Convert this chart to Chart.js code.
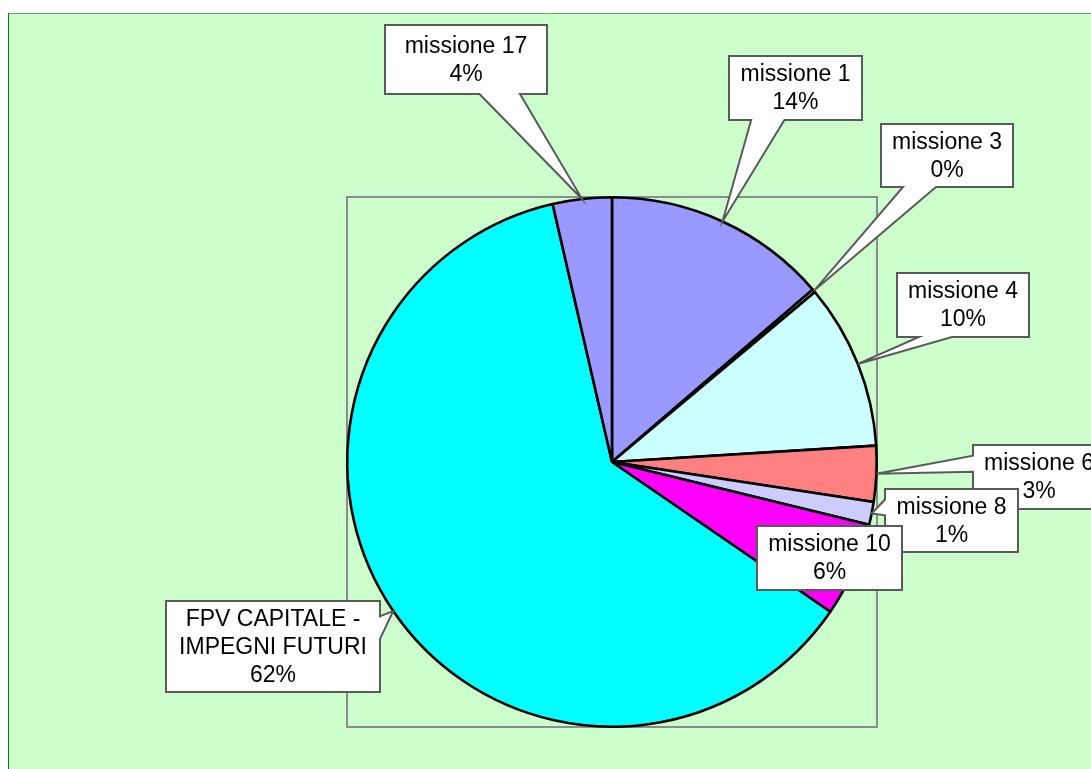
<!DOCTYPE html>
<html>
<head>
<meta charset="utf-8">
<script src="https://cdn.jsdelivr.net/npm/chart.js@4.4.1/dist/chart.umd.min.js"></script>
<style>
  html, body { margin: 0; padding: 0; background: #ffffff; }
  #wrap { position: absolute; left: 0; top: 0; width: 1091px; height: 769px; }
</style>
</head>
<body>
<div id="wrap"><canvas id="c" width="1091" height="769"></canvas></div>
<script>
// ---- data ----
const categories = [
  "missione 1", "missione 3", "missione 4", "missione 6", "missione 8",
  "missione 10", "FPV CAPITALE - IMPEGNI FUTURI", "missione 17"
];
const shares = [13.7, 0.2, 10.1, 3.4, 1.4, 5.75, 61.8, 3.6];
const sliceColors = ["#9999FF", "#FFFFCC", "#CCFFFF", "#FF8080", "#CCCCFF", "#FF00FF", "#00FFFF", "#9999FF"];

// ---- label box layout (page pixels: left, top, width, height) ----
const labelBoxes = [
  [729, 56, 133, 64],
  [881, 124, 132, 63],
  [897, 273, 132, 64],
  [973, 445, 132, 64],
  [885, 489, 133, 63],
  [757, 526, 145, 64],
  [166, 601, 214, 91],
  [385, 25, 162, 69]
];

const FONT = '23px "Liberation Sans", Arial, sans-serif';
const LINE_H = 28;

const bgPlugin = {
  id: 'bg',
  beforeDraw(chart) {
    const ctx = chart.ctx;
    ctx.save();
    ctx.fillStyle = '#ffffff';
    ctx.fillRect(0, 0, chart.width, chart.height);
    ctx.fillStyle = '#CCFFCC';
    ctx.fillRect(8, 13, chart.width - 8, chart.height - 13);
    ctx.lineWidth = 1;
    ctx.strokeStyle = '#6f9f6f';
    ctx.beginPath(); ctx.moveTo(8, 13.5); ctx.lineTo(chart.width, 13.5); ctx.stroke();
    ctx.strokeStyle = '#008000';
    ctx.beginPath(); ctx.moveTo(8.5, 13); ctx.lineTo(8.5, chart.height); ctx.stroke();
    // plot area frame
    const a = chart.chartArea;
    ctx.strokeStyle = '#8c8c8c';
    ctx.lineWidth = 2;
    ctx.strokeRect(a.left + 1, a.top + 1, a.right - a.left - 2, a.bottom - a.top - 2);
    ctx.restore();
  }
};

function calloutPath(ctx, bx, by, w, h, px, py) {
  const cx = bx + w / 2, cy = by + h / 2;
  const dx = px - cx, dy = py - cy;
  ctx.beginPath();
  const inside = px >= bx && px <= bx + w && py >= by && py <= by + h;
  if (inside) { ctx.rect(bx, by, w, h); return; }
  const dq = dx * h / w;
  const dz = Math.abs(dy) - Math.abs(dq);
  const xa = bx + w * (dx > 0 ? 7 : 2) / 12, xb = bx + w * (dx > 0 ? 10 : 5) / 12;
  const ya = by + h * (dy > 0 ? 7 : 2) / 12, yb = by + h * (dy > 0 ? 10 : 5) / 12;
  ctx.moveTo(bx, by);
  if (dz > 0 && dy < 0) { ctx.lineTo(xa, by); ctx.lineTo(px, py); ctx.lineTo(xb, by); }
  ctx.lineTo(bx + w, by);
  if (dz <= 0 && dx > 0) { ctx.lineTo(bx + w, ya); ctx.lineTo(px, py); ctx.lineTo(bx + w, yb); }
  ctx.lineTo(bx + w, by + h);
  if (dz > 0 && dy > 0) { ctx.lineTo(xb, by + h); ctx.lineTo(px, py); ctx.lineTo(xa, by + h); }
  ctx.lineTo(bx, by + h);
  if (dz <= 0 && dx < 0) { ctx.lineTo(bx, yb); ctx.lineTo(px, py); ctx.lineTo(bx, ya); }
  ctx.closePath();
}

function wrapText(ctx, text, maxW) {
  const words = text.split(' ');
  const lines = [];
  let cur = '';
  for (const w of words) {
    const t = cur ? cur + ' ' + w : w;
    if (ctx.measureText(t).width > maxW && cur) { lines.push(cur); cur = w; }
    else cur = t;
  }
  if (cur) lines.push(cur);
  return lines;
}

const labelPlugin = {
  id: 'callouts',
  afterDatasetsDraw(chart) {
    const ctx = chart.ctx;
    const meta = chart.getDatasetMeta(0);
    const vals = chart.data.datasets[0].data;
    const total = vals.reduce((s, v) => s + v, 0);
    ctx.save();
    ctx.font = FONT;
    meta.data.forEach((arc, i) => {
      const p = arc.getProps(['x', 'y', 'startAngle', 'endAngle', 'outerRadius'], true);
      const mid = (p.startAngle + p.endAngle) / 2;
      const ax = p.x + Math.cos(mid) * p.outerRadius;
      const ay = p.y + Math.sin(mid) * p.outerRadius;
      const [bx, by, w, h] = labelBoxes[i];
      calloutPath(ctx, bx, by, w, h, ax, ay);
      ctx.fillStyle = '#ffffff';
      ctx.fill();
      ctx.strokeStyle = '#5a5a5a';
      ctx.lineWidth = 2;
      ctx.lineJoin = 'miter';
      ctx.stroke();
      const lines = wrapText(ctx, chart.data.labels[i], w - 8);
      lines.push(Math.round(vals[i] / total * 100) + '%');
      ctx.fillStyle = '#000000';
      ctx.textAlign = 'center';
      ctx.textBaseline = 'middle';
      const cy = by + h / 2;
      const startY = cy - (lines.length - 1) * LINE_H / 2;
      lines.forEach((ln, k) => ctx.fillText(ln, bx + w / 2, startY + k * LINE_H + 1));
    });
    ctx.restore();
  }
};

new Chart(document.getElementById('c'), {
  type: 'pie',
  data: {
    labels: categories,
    datasets: [{
      data: shares,
      backgroundColor: sliceColors,
      borderColor: '#000000',
      borderWidth: 2.6,
      borderAlign: 'center'
    }]
  },
  options: {
    responsive: false,
    animation: false,
    events: [],
    layout: { padding: { left: 346, top: 196, right: 213, bottom: 41 } },
    plugins: {
      legend: { display: false },
      tooltip: { enabled: false },
      title: { display: false }
    }
  },
  plugins: [bgPlugin, labelPlugin]
});
</script>
</body>
</html>
